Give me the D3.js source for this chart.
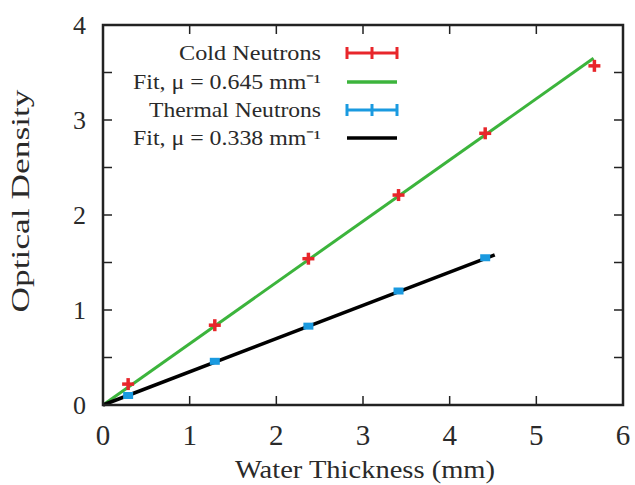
<!DOCTYPE html>
<html><head><meta charset="utf-8">
<script src="https://cdn.jsdelivr.net/npm/d3@7"></script>
<style>body{margin:0;background:#fff}svg{display:block}text{font-family:"Liberation Serif","Times New Roman",serif;fill:#2a2a2a}</style>
</head><body><svg id="c" width="635" height="485"></svg>
<script>
const xTicks = [0,1,2,3,4,5,6];
const yTicks = [0,1,2,3,4];
const yMinorTicks = [0.5,1.5,2.5,3.5];
const coldX = [0.29,1.29,2.37,3.41,4.41,5.67];
const coldY = [0.22,0.84,1.54,2.21,2.86,3.57];
const thermX = [0.29,1.29,2.37,3.41,4.41];
const thermY = [0.10,0.46,0.83,1.20,1.55];
const coldFitX = [0,5.66];
const coldFitY = [0,3.65];
const thermFitX = [0,4.52];
const thermFitY = [0,1.58];
const legendLabels = ["Cold Neutrons","Fit, \u03bc = 0.645 mm\u207b\u00b9","Thermal Neutrons","Fit, \u03bc = 0.338 mm\u207b\u00b9"];
const colors = {cold:"#e8262b", coldFit:"#3cb43c", therm:"#1a9ae0", thermFit:"#000000"};

const svg = d3.select("#c");
const L=103, R=623, T=25, B=405;
const x = d3.scaleLinear().domain([0,6]).range([L,R]);
const y = d3.scaleLinear().domain([0,4]).range([B,T]);
const frameColor="#222";

// fit lines
const line = d3.line().x(d=>x(d[0])).y(d=>y(d[1]));
svg.append("path").datum(d3.zip(coldFitX,coldFitY)).attr("d",line)
  .attr("stroke",colors.coldFit).attr("stroke-width",3).attr("fill","none");
svg.append("path").datum(d3.zip(thermFitX,thermFitY)).attr("d",line)
  .attr("stroke",colors.thermFit).attr("stroke-width",3.5).attr("fill","none");

// thermal points (small blue bars)
svg.selectAll(".tp").data(d3.zip(thermX,thermY)).enter().append("rect")
  .attr("x",d=>x(d[0])-5).attr("y",d=>y(d[1])-3.5).attr("width",10).attr("height",7)
  .attr("fill",colors.therm);
// cold points (red crosses)
const cg = svg.selectAll(".cp").data(d3.zip(coldX,coldY)).enter().append("g")
  .attr("transform",d=>`translate(${x(d[0])},${y(d[1])})`);
cg.append("line").attr("x1",-6).attr("x2",6).attr("stroke",colors.cold).attr("stroke-width",3.5);
cg.append("line").attr("y1",-6).attr("y2",6).attr("stroke",colors.cold).attr("stroke-width",3.5);

// frame
svg.append("rect").attr("x",L).attr("y",T).attr("width",R-L).attr("height",B-T)
  .attr("fill","none").attr("stroke",frameColor).attr("stroke-width",2.5);
// ticks
const tl=9;
xTicks.slice(1,-1).forEach(t=>{
  svg.append("line").attr("x1",x(t)).attr("x2",x(t)).attr("y1",B).attr("y2",B-tl).attr("stroke",frameColor).attr("stroke-width",1.5);
  svg.append("line").attr("x1",x(t)).attr("x2",x(t)).attr("y1",T).attr("y2",T+tl).attr("stroke",frameColor).attr("stroke-width",1.5);
});
yTicks.slice(1,-1).concat(yMinorTicks).forEach(t=>{
  svg.append("line").attr("y1",y(t)).attr("y2",y(t)).attr("x1",L).attr("x2",L+tl).attr("stroke",frameColor).attr("stroke-width",1.5);
  svg.append("line").attr("y1",y(t)).attr("y2",y(t)).attr("x1",R).attr("x2",R-tl).attr("stroke",frameColor).attr("stroke-width",1.5);
});
// tick labels
svg.selectAll(".xl").data(xTicks).enter().append("text")
  .attr("x",d=>x(d)).attr("y",445).attr("text-anchor","middle").attr("font-size",29).text(d=>d);
svg.selectAll(".yl").data(yTicks).enter().append("text")
  .attr("x",86).attr("y",d=>y(d)+9).attr("text-anchor","end").attr("font-size",26).text(d=>d);
// axis titles
svg.append("text").attr("x",365).attr("y",478).attr("text-anchor","middle").attr("font-size",25)
  .attr("textLength",260).attr("lengthAdjust","spacingAndGlyphs").text("Water Thickness (mm)");
svg.append("text").attr("transform",`translate(29,201) rotate(-90)`).attr("text-anchor","middle").attr("font-size",25)
  .attr("textLength",223).attr("lengthAdjust","spacingAndGlyphs").text("Optical Density");

// legend
const ly=[53,82,110,138];
const lw=[142,188,172,188];
legendLabels.forEach((s,i)=>{
  svg.append("text").attr("x",321-lw[i]).attr("y",ly[i]+7).attr("font-size",22)
    .attr("textLength",lw[i]).attr("lengthAdjust","spacingAndGlyphs").text(s);
});
const lx1=347, lx2=397;
[[0,colors.cold],[2,colors.therm]].forEach(([i,c])=>{
  svg.append("line").attr("x1",lx1).attr("x2",lx2).attr("y1",ly[i]).attr("y2",ly[i]).attr("stroke",c).attr("stroke-width",3);
  [lx1,(lx1+lx2)/2,lx2].forEach(xx=>svg.append("line").attr("x1",xx).attr("x2",xx).attr("y1",ly[i]-6).attr("y2",ly[i]+6).attr("stroke",c).attr("stroke-width",3));
});
svg.append("line").attr("x1",lx1).attr("x2",lx2).attr("y1",ly[1]).attr("y2",ly[1]).attr("stroke",colors.coldFit).attr("stroke-width",3.5);
svg.append("line").attr("x1",lx1).attr("x2",lx2).attr("y1",ly[3]).attr("y2",ly[3]).attr("stroke",colors.thermFit).attr("stroke-width",3.5);
</script></body></html>
